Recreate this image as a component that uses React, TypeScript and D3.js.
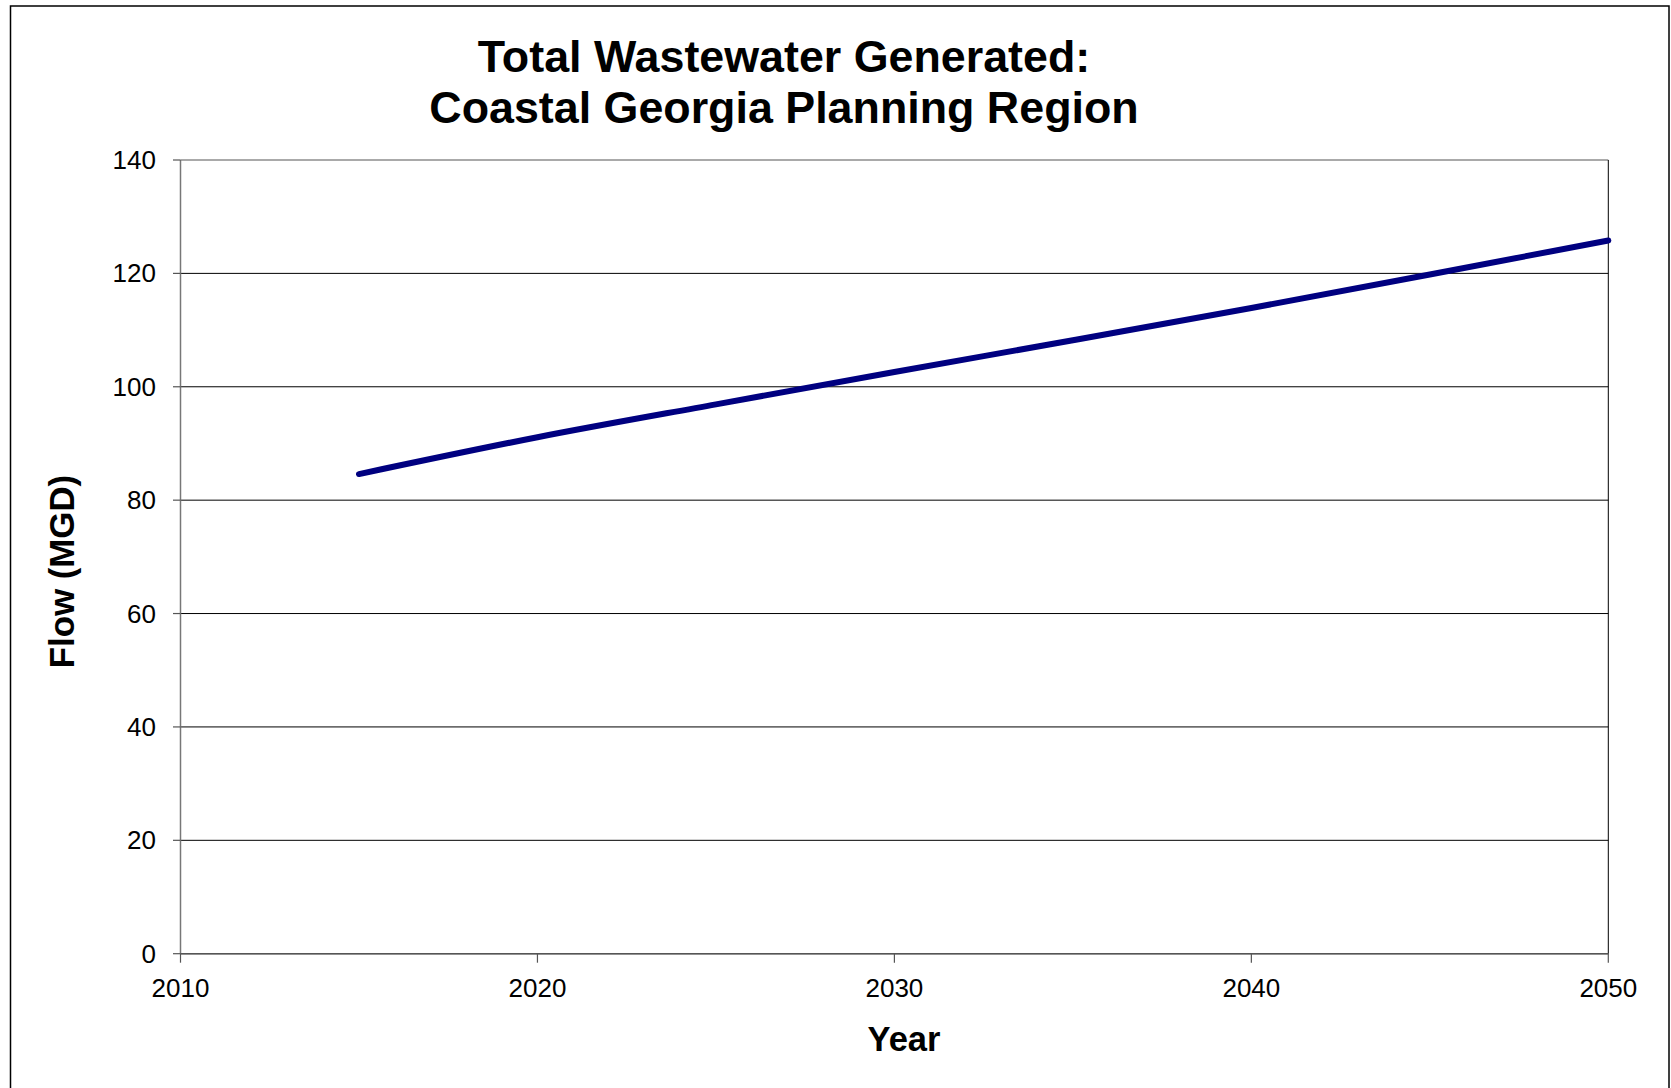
import React from "react";
import * as d3 from "d3";

const years = [2015, 2020, 2025, 2030, 2035, 2040, 2045, 2050];
const flowMGD = [84.6, 91.1, 96.9, 102.6, 108.2, 113.9, 119.8, 125.8];
const xTicks = [2010, 2020, 2030, 2040, 2050];
const yTicks = [0, 20, 40, 60, 80, 100, 120, 140];
const titleLines = ["Total Wastewater Generated:", "Coastal Georgia Planning Region"];
const xTitle = "Year";
const yTitle = "Flow (MGD)";

const W = 1671;
const H = 1088;
const left = 180.5;
const right = 1608.3;
const top = 160;
const bottom = 953.7;
const font = "'Liberation Sans', Arial, sans-serif";

export default function App() {
  const x = d3.scaleLinear().domain([2010, 2050]).range([left, right]);
  const y = d3.scaleLinear().domain([0, 140]).range([bottom, top]);
  const data = years.map((yr, i) => ({ yr, v: flowMGD[i] }));
  const line = d3
    .line<{ yr: number; v: number }>()
    .x((d) => x(d.yr))
    .y((d) => y(d.v))
    .curve(d3.curveMonotoneX);

  return (
    <svg
      width={W}
      height={H}
      style={{ position: "absolute", left: 0, top: 0, background: "#fff" }}
      fontFamily={font}
    >
      <rect x={0} y={0} width={W} height={H} fill="#fff" />
      <rect x={10.5} y={6} width={1658.5} height={1110} fill="none" stroke="#000" strokeWidth={1.5} />
      {yTicks.map((t) => (
        <line key={"g" + t} x1={left} x2={right} y1={y(t)} y2={y(t)} stroke={t === 140 ? "#555" : "#000"} strokeWidth={1} />
      ))}
      <line x1={right} x2={right} y1={top} y2={bottom} stroke="#000" strokeWidth={1} />
      <line x1={left} x2={left} y1={top} y2={bottom} stroke="#777" strokeWidth={1.5} />
      <line x1={left} x2={right} y1={bottom} y2={bottom} stroke="#555" strokeWidth={1.5} />
      {yTicks.map((t) => (
        <g key={"y" + t}>
          <line x1={173} x2={left} y1={y(t)} y2={y(t)} stroke="#555" strokeWidth={1.2} />
          <text x={156} y={y(t) + 9} textAnchor="end" fontSize={26} fill="#000">
            {t}
          </text>
        </g>
      ))}
      {xTicks.map((t) => (
        <g key={"x" + t}>
          <line x1={x(t)} x2={x(t)} y1={bottom} y2={bottom + 9} stroke="#555" strokeWidth={1.2} />
          <text x={x(t)} y={996.5} textAnchor="middle" fontSize={26} fill="#000">
            {t}
          </text>
        </g>
      ))}
      <path d={line(data) || ""} fill="none" stroke="#000080" strokeWidth={6} strokeLinecap="round" strokeLinejoin="round" />
      {titleLines.map((s, i) => (
        <text key={s} x={784} y={71.5 + i * 51} textAnchor="middle" fontSize={44.8} fontWeight="bold" fill="#000">
          {s}
        </text>
      ))}
      <text x={904} y={1051} textAnchor="middle" fontSize={34.5} fontWeight="bold" fill="#000">
        {xTitle}
      </text>
      <text
        transform={`translate(74, 571.5) rotate(-90)`}
        textAnchor="middle"
        fontSize={34.8}
        fontWeight="bold"
        fill="#000"
      >
        {yTitle}
      </text>
    </svg>
  );
}
